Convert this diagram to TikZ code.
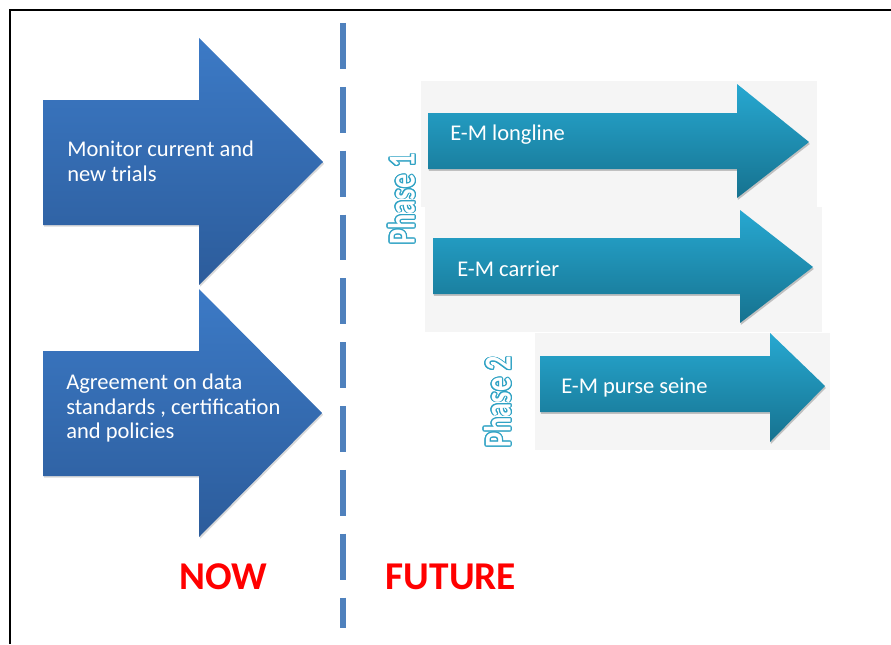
\documentclass[tikz,border=0pt]{standalone}
\usepackage{fontspec}
\setmainfont{Carlito}
\usepackage{graphicx}
\usepackage{contour}
\contourlength{0.85pt}
\usetikzlibrary{positioning,shadows}

\definecolor{nowblue}{HTML}{3C7AC6}
\definecolor{nowbluedark}{HTML}{2C5C9B}
\definecolor{futteal}{HTML}{27A8D1}
\definecolor{futtealdark}{HTML}{16728F}
\definecolor{divblue}{HTML}{4F81BD}
\definecolor{phaseteal}{HTML}{2FA2C4}
\definecolor{panelgray}{HTML}{F5F5F5}

\begin{document}
\begin{tikzpicture}[
    x=0.025cm, y=-0.025cm,
    nowarrow/.style={top color=nowblue, bottom color=nowbluedark, drop shadow={shadow xshift=0.8pt, shadow yshift=-1.2pt, opacity=0.3}},
    futarrow/.style={top color=futteal, bottom color=futtealdark, drop shadow={shadow xshift=0.6pt, shadow yshift=-1.4pt, opacity=0.45}},
    panel/.style={fill=panelgray, draw=none},
    label/.style={anchor=west, inner sep=0pt, align=left, text=white, font=\fontsize{16}{17.7}\selectfont},
    phase/.style={rotate=90, inner sep=0pt, text=white, font=\fontsize{27}{27}\selectfont\bfseries},
    side/.style={inner sep=0pt, text=red, font=\fontsize{28}{28}\selectfont\bfseries}
]
\useasboundingbox (0,0) rectangle (891,644);

% Frame
\draw[line width=1.5pt] (891,10) -- (10,10) -- (10,644);

% Divider
\coordinate (divtop) at (343,23);
\coordinate (divbot) at (343,628);
\draw[divblue, line width=4.2pt, dash pattern=on 32.6pt off 12.8pt] (divtop) -- (divbot);

% Now arrows
\path[nowarrow] (43,100) -- (199,100) -- (199,38) -- (323,162) -- (199,285) -- (199,225) -- (43,225) -- cycle;
\path[nowarrow] (43,351) -- (199,351) -- (199,289) -- (322,413) -- (199,537) -- (199,476) -- (43,476) -- cycle;
\node[label] (monitor) at (67,161) {Monitor current and\\new trials};
\node[label] (agree) at (66,408) {Agreement on data\\standards , certification\\and policies};

% Future panels
\fill[panel] (421,81) rectangle (817,207);
\fill[panel] (425,207) rectangle (822,332);
\fill[panel] (535,333) rectangle (830,450);

% Future arrows
\path[futarrow] (428,113) -- (737,113) -- (737,84) -- (809,142) -- (737,198) -- (737,169) -- (428,169) -- cycle;
\path[futarrow] (433,238) -- (740,238) -- (740,210) -- (813,267) -- (740,323) -- (740,294) -- (433,294) -- cycle;
\path[futarrow] (540,356) -- (770,356) -- (770,333) -- (825,386) -- (770,442) -- (770,412) -- (540,412) -- cycle;
\node[label] (longline) at (450,135) {E-M longline};
\node[label] (carrier) at (457,269) {E-M carrier};
\node[label] (purse) at (561,388) {E-M purse seine};

% Phases
\node[phase] (phase1) at (402,199) {\scalebox{0.75}[1]{\contour{phaseteal}{Phase 1}}};
\node[phase] (phase2) at (498,402) {\scalebox{0.75}[1]{\contour{phaseteal}{Phase 2}}};

% Labels
\node[side] (now) at (223,577) {NOW};
\node[side] (future) at (451,577) {FUTURE};

\end{tikzpicture}
\end{document}
